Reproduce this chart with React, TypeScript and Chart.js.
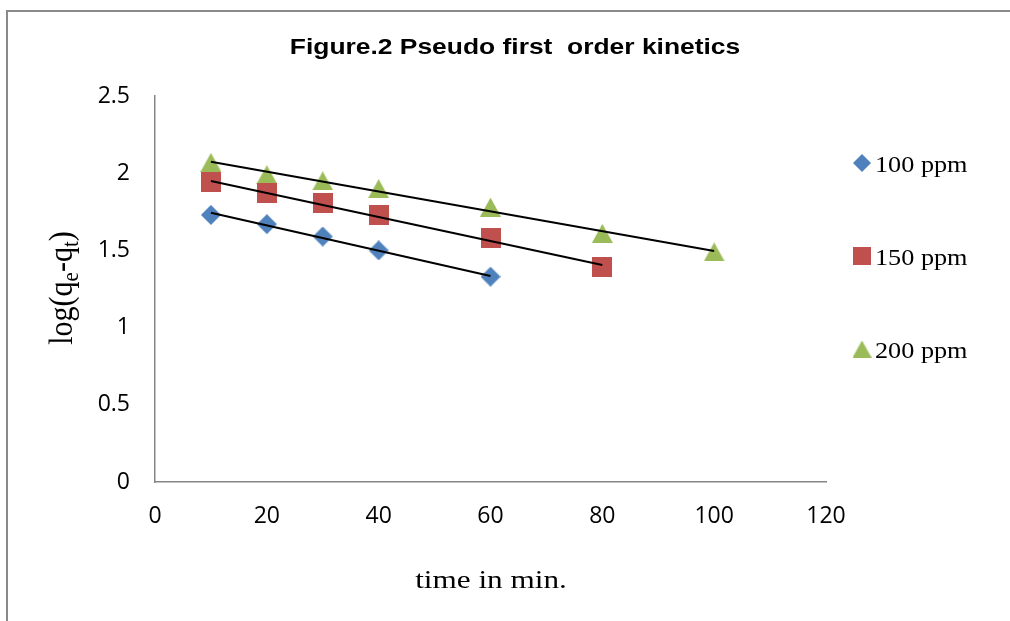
import React, { useEffect, useRef } from 'react';
import { Chart, registerables } from 'chart.js';

Chart.register(...registerables);

// ---- data ----
const chartTitle = 'Figure.2 Pseudo first  order kinetics';
const xAxisTitle = 'time in min.';
const seriesLabels = ['100 ppm', '150 ppm', '200 ppm'];
const seriesColors = ['#4F81BD', '#C0504D', '#9BBB59'];

const times100 = [10, 20, 30, 40, 60];
const values100 = [1.73, 1.67, 1.59, 1.5, 1.33];
const times150 = [10, 20, 30, 40, 60, 80];
const values150 = [1.94, 1.87, 1.81, 1.73, 1.58, 1.39];
const times200 = [10, 20, 30, 40, 60, 80, 100];
const values200 = [2.07, 1.99, 1.95, 1.9, 1.78, 1.61, 1.49];

// linear trend lines (end points)
const trendTimes100 = [10, 60];
const trendValues100 = [1.744, 1.334];
const trendTimes150 = [10, 80];
const trendValues150 = [1.949, 1.405];
const trendTimes200 = [10, 100];
const trendValues200 = [2.074, 1.496];

const xMin = 0, xMax = 120, xStep = 20;
const yMin = 0, yMax = 2.5, yStep = 0.5;

const toPoints = (xs: number[], ys: number[]) => xs.map((x, i) => ({ x, y: ys[i] }));

function makeMarker(shape: string, color: string, size: number): HTMLCanvasElement {
  const c = document.createElement('canvas');
  const w = shape === 'triangle' ? size + 1 : size;
  const h = shape === 'triangle' ? size - 1 : size;
  c.width = w;
  c.height = h;
  const ctx = c.getContext('2d')!;
  ctx.fillStyle = color;
  ctx.beginPath();
  if (shape === 'diamond') {
    ctx.moveTo(w / 2, 0);
    ctx.lineTo(w, h / 2);
    ctx.lineTo(w / 2, h);
    ctx.lineTo(0, h / 2);
  } else if (shape === 'square') {
    ctx.rect(0, 0, w, h);
  } else {
    ctx.moveTo(w / 2, 0);
    ctx.lineTo(w, h);
    ctx.lineTo(0, h);
  }
  ctx.closePath();
  ctx.fill();
  return c;
}

export default function App() {
  const ref = useRef<HTMLCanvasElement>(null);

  useEffect(() => {
    if (!ref.current) return;
    const shapes = ['diamond', 'square', 'triangle'];
    const plotMarkers = shapes.map((s, i) => makeMarker(s, seriesColors[i], 20));
    const legendMarkers = shapes.map((s, i) => makeMarker(s, seriesColors[i], 18));

    const decor = {
      id: 'decor',
      beforeDraw(chart: any) {
        const ctx = chart.ctx;
        ctx.save();
        ctx.fillStyle = '#ffffff';
        ctx.fillRect(0, 0, chart.width, chart.height);
        ctx.restore();
      },
      afterDraw(chart: any) {
        const ctx = chart.ctx;
        ctx.save();
        // outer frame
        ctx.strokeStyle = '#8a8a8a';
        ctx.lineWidth = 2;
        ctx.beginPath();
        ctx.moveTo(7, chart.height);
        ctx.lineTo(7, 11);
        ctx.lineTo(chart.width, 11);
        ctx.stroke();

        ctx.fillStyle = '#000000';
        ctx.textBaseline = 'alphabetic';
        // title
        ctx.font = 'bold 22px "Liberation Sans", Arial, sans-serif';
        let w = ctx.measureText(chartTitle).width;
        ctx.save();
        ctx.translate(515, 54);
        ctx.scale(1.2, 1);
        ctx.fillText(chartTitle, -w / 2, 0);
        ctx.restore();

        // x axis title
        ctx.font = '26px "Liberation Serif", "Times New Roman", serif';
        w = ctx.measureText(xAxisTitle).width;
        ctx.save();
        ctx.translate(491, 588);
        ctx.scale(1.2, 1);
        ctx.fillText(xAxisTitle, -w / 2, 0);
        ctx.restore();

        // y axis title with subscripts
        const mainFont = '30px "Liberation Serif", "Times New Roman", serif';
        const subFont = '21px "Liberation Serif", "Times New Roman", serif';
        const parts: [string, boolean][] = [['log(q', false], ['e', true], ['-q', false], ['t', true], [')', false]];
        let total = 0;
        const widths = parts.map(([t, sub]) => {
          ctx.font = sub ? subFont : mainFont;
          const m = ctx.measureText(t).width;
          total += m;
          return m;
        });
        ctx.save();
        ctx.translate(72, 288);
        ctx.rotate(-Math.PI / 2);
        ctx.scale(1, 1.1);
        let px = -total / 2;
        parts.forEach(([t, sub], i) => {
          ctx.font = sub ? subFont : mainFont;
          ctx.fillText(t, px, sub ? 5 : 0);
          px += widths[i];
        });
        ctx.restore();

        // legend
        const legendY = [163, 256, 349];
        const legendBase = [172, 265, 358];
        ctx.font = '23px "Liberation Serif", "Times New Roman", serif';
        seriesLabels.forEach((lab, i) => {
          const mk = legendMarkers[i];
          ctx.drawImage(mk, 862 - mk.width / 2, legendY[i] - mk.height / 2);
          ctx.save();
          ctx.translate(875, legendBase[i]);
          ctx.scale(1.14, 1);
          ctx.fillText(lab, 0, 0);
          ctx.restore();
        });
        ctx.restore();
      },
    };

    const trendStyle = {
      type: 'line' as const,
      showLine: true,
      borderColor: '#000000',
      borderWidth: 2,
      pointRadius: 0,
      fill: false,
      order: 0,
    };

    const tickFmt = (v: any) => String(Number(v));

    const chart = new Chart(ref.current, {
      type: 'scatter',
      data: {
        datasets: [
          { ...trendStyle, label: 'trend 100', data: toPoints(trendTimes100, trendValues100) },
          { ...trendStyle, label: 'trend 150', data: toPoints(trendTimes150, trendValues150) },
          { ...trendStyle, label: 'trend 200', data: toPoints(trendTimes200, trendValues200) },
          { label: seriesLabels[0], data: toPoints(times100, values100), pointStyle: plotMarkers[0], pointRadius: 10, order: 1 },
          { label: seriesLabels[1], data: toPoints(times150, values150), pointStyle: plotMarkers[1], pointRadius: 10, order: 1 },
          { label: seriesLabels[2], data: toPoints(times200, values200), pointStyle: plotMarkers[2], pointRadius: 10, order: 1 },
        ] as any,
      },
      options: {
        responsive: false,
        animation: false,
        events: [],
        layout: { padding: { top: 96, right: 184, left: 0, bottom: 0 } },
        plugins: {
          legend: { display: false },
          title: { display: false },
          tooltip: { enabled: false },
        },
        scales: {
          x: {
            type: 'linear',
            min: xMin,
            max: xMax,
            grid: { display: false, drawTicks: false },
            border: { display: true, color: '#868686', width: 1.5 },
            ticks: {
              stepSize: xStep,
              padding: 21,
              color: '#000000',
              font: { family: '"Open Sans", sans-serif', size: 23 },
              callback: tickFmt,
            },
            afterFit: (scale: any) => { scale.height = 139; },
          },
          y: {
            type: 'linear',
            min: yMin,
            max: yMax,
            grid: { display: false, drawTicks: false },
            border: { display: true, color: '#868686', width: 1.5 },
            ticks: {
              stepSize: yStep,
              padding: 25,
              color: '#000000',
              font: { family: '"Open Sans", sans-serif', size: 23 },
              callback: tickFmt,
            },
            afterFit: (scale: any) => { scale.width = 155; },
          },
        },
      } as any,
      plugins: [decor],
    });

    return () => chart.destroy();
  }, []);

  return (
    <div style={{ position: 'absolute', left: 0, top: 0, width: 1010, height: 621, background: '#fff' }}>
      <canvas ref={ref} width={1010} height={621} style={{ display: 'block' }} />
    </div>
  );
}
